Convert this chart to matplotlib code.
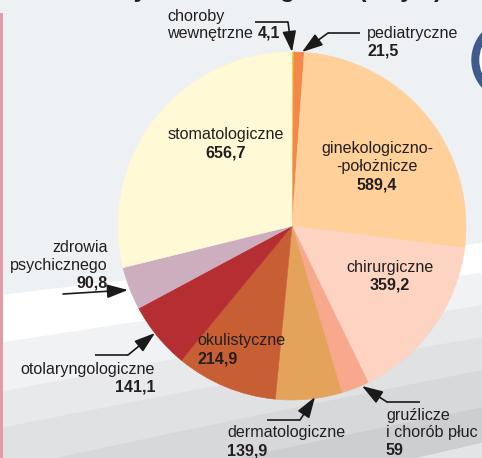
import matplotlib
matplotlib.use("Agg")
import matplotlib.pyplot as plt
from matplotlib.patches import Rectangle, Wedge
import numpy as np

plt.rcParams['font.family'] = ['Liberation Sans', 'DejaVu Sans']

# ---------------- data ----------------
categories = ["choroby wewnętrzne", "pediatryczne", "ginekologiczno-położnicze",
              "chirurgiczne", "gruźlicze i chorób płuc", "dermatologiczne",
              "okulistyczne", "otolaryngologiczne", "zdrowia psychicznego",
              "stomatologiczne"]
values = [4.1, 21.5, 589.4, 359.2, 59.0, 139.9, 214.9, 141.1, 90.8, 656.7]
value_labels = ["4,1", "21,5", "589,4", "359,2", "59", "139,9", "214,9",
                "141,1", "90,8", "656,7"]
colors = ["#F7C21B", "#F4874A", "#FFD09A", "#FDD3C1", "#F8A88C", "#E4A35B",
          "#C85E34", "#B52F32", "#CDAEBF", "#FFF9D5"]

W, H = 482, 458
TXT = "#231F20"
FS = 11.6

fig = plt.figure(figsize=(W / 100, H / 100), dpi=100)
ax = fig.add_axes([0, 0, 1, 1])

def Y(py):
    return H - py

# ---------------- background ----------------
ax.add_patch(Rectangle((0, 0), W, H, color="#EDF1F3", zorder=0))
bounds = [(295, 243), (343, 273), (392, 305), (428, 337), (470, 370),
          (510, 407), (560, 443), (700, 600)]
band_cols = ["#FFFFFF", "#F1F2F4", "#E8E9EB", "#E0E1E3", "#D7D8DA",
             "#CDCED0", "#E3E4E6"]
xs = np.linspace(0, W, 60)
def curve(l, r):
    t = xs / W
    return l + (r - l) * t - 6 * t * (1 - t)
for i, c in enumerate(band_cols):
    top = curve(*bounds[i])
    bot = curve(*bounds[i + 1])
    ax.fill_between(xs, Y(top), Y(bot), color=c, lw=0, zorder=1)
ax.add_patch(Rectangle((0, 0), 2.5, Y(13), color="#E39CA3", lw=0, zorder=2))
# blue ring at top right
ax.add_patch(Wedge((513, Y(60)), 41, 0, 360, width=8, color="#3F5A8C", zorder=2))
ax.add_patch(Wedge((513, Y(60)), 33, 0, 360, color="#FFFFFF", zorder=2))

# partially visible title (cut by the top edge, as in the source)
ax.text(442, Y(-3.5), "Porady lekarskie ogółem (w tys.)", ha="right", va="baseline",
        fontsize=17.5, fontweight="bold", color=TXT, zorder=3)

# ---------------- pie ----------------
wedges, _ = ax.pie(values, colors=colors, startangle=90, counterclock=False,
                   center=(292, Y(226)), radius=174,
                   wedgeprops=dict(linewidth=0.4, antialiased=True))
for w_, c in zip(wedges, colors):
    w_.set_edgecolor(c)
    w_.set_zorder(4)

ax.set_xlim(0, W)
ax.set_ylim(0, H)
ax.set_aspect("auto")
ax.axis("off")

# ---------------- labels ----------------
def t(x, py, s, ha="left", bold=False):
    ax.text(x, Y(py), s, ha=ha, va="baseline", fontsize=FS, color=TXT,
            fontweight="bold" if bold else "normal", zorder=6)

# choroby wewnętrzne
t(167, 21, "choroby")
t(167, 38, "wewnętrzne")
t(258, 38, value_labels[0], bold=True)
# pediatryczne
t(367, 38, "pediatryczne")
t(367, 56, value_labels[1], bold=True)
# stomatologiczne
t(226, 139, "stomatologiczne", ha="center")
t(226, 157, value_labels[9], ha="center", bold=True)
# ginekologiczno-położnicze
t(377, 153, "ginekologiczno-", ha="center")
t(377, 171, "-położnicze", ha="center")
t(377, 189, value_labels[2], ha="center", bold=True)
# chirurgiczne
t(390, 272, "chirurgiczne", ha="center")
t(390, 290, value_labels[3], ha="center", bold=True)
# okulistyczne
t(197, 345, "okulistyczne")
t(197, 363, value_labels[6], bold=True)
# otolaryngologiczne
t(155, 374, "otolaryngologiczne", ha="right")
t(155, 391, value_labels[7], ha="right", bold=True)
# dermatologiczne
t(227, 437, "dermatologiczne")
t(227, 455, value_labels[5], bold=True)
# gruźlicze
t(386, 420, "gruźlicze")
t(386, 437, "i chorób płuc")
t(386, 455, value_labels[4], bold=True)
# zdrowia psychicznego
t(108, 252, "zdrowia", ha="right")
t(108, 270, "psychicznego", ha="right")
t(108, 287, value_labels[8], ha="right", bold=True)

# ---------------- arrows ----------------
def arrow(pts):
    pts = [(x, Y(py)) for x, py in pts]
    if len(pts) > 2:
        ax.plot([p[0] for p in pts[:-1]], [p[1] for p in pts[:-1]],
                color="#1A1A1A", lw=1.2, solid_capstyle="butt", zorder=7)
    ax.annotate("", xy=pts[-1], xytext=pts[-2],
                arrowprops=dict(arrowstyle="-|>,head_length=0.85,head_width=0.28",
                                mutation_scale=15, lw=1.2, color="#1A1A1A",
                                shrinkA=0, shrinkB=0), zorder=7)

arrow([(255, 22), (288, 22), (292, 52)])
arrow([(360, 33), (328, 33), (302, 52)])
arrow([(63, 294), (128, 290)])
arrow([(95, 355), (128, 355), (155, 333)])
arrow([(267, 420), (300, 420), (315, 397)])
arrow([(420, 402), (387, 402), (362, 386)])

fig.savefig("out.png", dpi=100)
